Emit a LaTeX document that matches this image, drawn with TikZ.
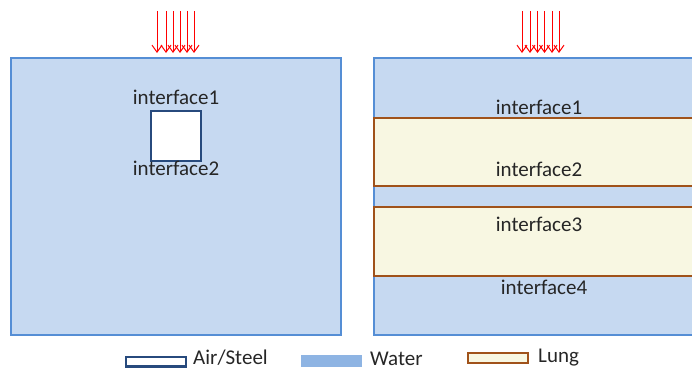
\documentclass[tikz,border=0pt]{standalone}
\usepackage{fontspec}
\setmainfont{Carlito}
\usetikzlibrary{arrows.meta}
\definecolor{waterfill}{HTML}{C6D9F1}
\definecolor{waterline}{HTML}{558ED5}
\definecolor{waterleg}{HTML}{8EB4E3}
\definecolor{steelline}{HTML}{274A7D}
\definecolor{lungfill}{HTML}{F8F7E2}
\definecolor{lungline}{HTML}{A0521A}
\tikzset{
  waterbox/.style={fill=waterfill, draw=waterline, line width=2.6pt},
  steelbox/.style={fill=white, draw=steelline, line width=2.6pt},
  lungbox/.style={fill=lungfill, draw=lungline, line width=2.8pt},
  lbl/.style={anchor=base, inner sep=0pt, font=\fontsize{21}{25}\selectfont, text=black!85},
  leglbl/.style={lbl, anchor=base west, text depth=0pt},
  redarrow/.style={draw=red, line width=1pt, -{Straight Barb[length=7pt,width=10pt]}}
}
\begin{document}
\begin{tikzpicture}[x=1pt,y=-1pt]
\useasboundingbox (0,0) rectangle (692,369);
\clip (0,0) rectangle (692,369);
% left panel
\draw[waterbox] (11,58) rectangle (341,335);
\draw[steelbox] (151,111) rectangle (201,161);
\node[lbl] (l1) at (176,104) {interface1};
\node[lbl] (l2) at (176,175) {interface2};
% right panel
\draw[waterbox] (374,58) rectangle (730,335);
\draw[lungbox] (374,118) rectangle (730,186);
\draw[lungbox] (374,207) rectangle (730,276);
\node[lbl] (r1) at (539,114.5) {interface1};
\node[lbl] (r2) at (539,176) {interface2};
\node[lbl] (r3) at (539,231) {interface3};
\node[lbl] (r4) at (544,294) {interface4};
% arrows
\foreach \x [count=\i] in {157,166,173,180,187,194} {
  \coordinate (la\i s) at (\x,11);
  \coordinate (la\i e) at (\x,53);
  \draw[redarrow] (la\i s) -- (la\i e);
}
\foreach \x [count=\i] in {522,530,537.5,544.5,552,559} {
  \coordinate (ra\i s) at (\x,11);
  \coordinate (ra\i e) at (\x,53);
  \draw[redarrow] (ra\i s) -- (ra\i e);
}
% legend
\draw[steelbox, line width=2.2pt] (126,357) rectangle (186,366.5);
\node[leglbl] (lg1) at (193,364) {Air/Steel};
\fill[waterleg] (301,355) rectangle (362,367);
\node[leglbl] (lg2) at (370,365) {Water};
\draw[lungbox, line width=2.2pt] (468,353) rectangle (528,363);
\node[leglbl] (lg3) at (538,362) {Lung};
\end{tikzpicture}
\end{document}
